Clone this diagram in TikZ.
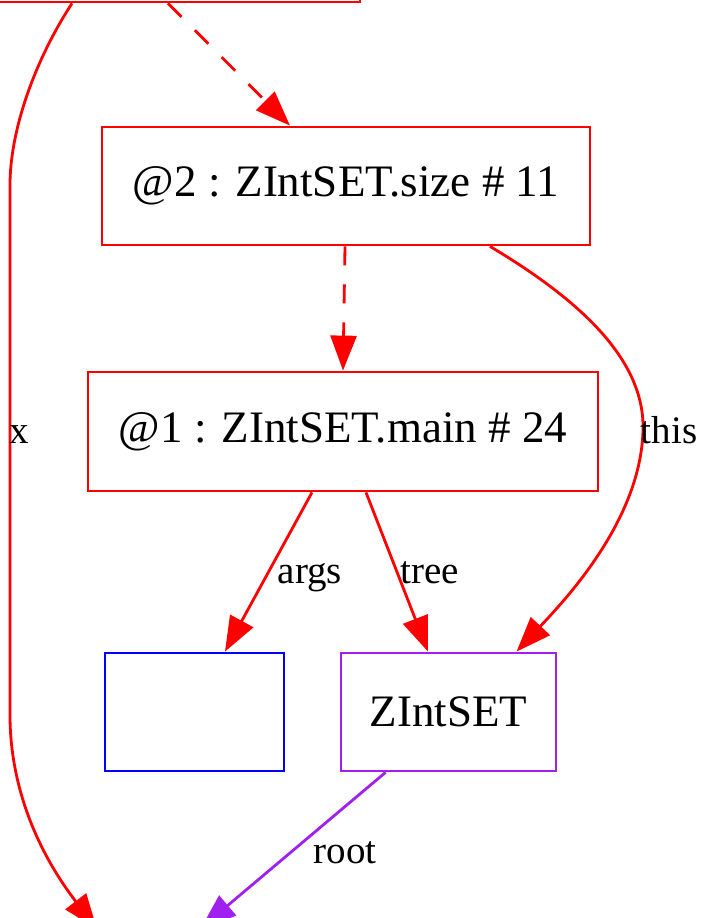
\documentclass[tikz,border=0pt]{standalone}
\usepackage{fontspec}
\setmainfont{Liberation Serif}
\usetikzlibrary{arrows.meta}
\definecolor{gvpurple}{HTML}{A020F0}
\begin{document}
\begin{tikzpicture}[x=1pt,y=-1pt,
  box/.style={draw=red,rectangle,line width=2.8pt,inner sep=0pt,font=\fontsize{45}{54}\selectfont},
  edge/.style={draw=red,line width=2.8pt,-{Triangle[length=35pt,width=26pt]}},
  dsh/.style={dash pattern=on 19pt off 19pt},
  lbl/.style={font=\fontsize{39}{47}\selectfont,inner sep=0pt,anchor=base}]
\useasboundingbox (0,0) rectangle (703,918);
\clip (0,0) rectangle (703,918);
\node[box,minimum width=420pt,minimum height=118pt] (top) at (150,-57) {};
\node[box,minimum width=488pt,minimum height=118pt] (n2) at (346,186) {@2 : ZIntSET.size \# 11};
\node[box,minimum width=510pt,minimum height=119pt] (n1) at (343,431.5) {@1 : ZIntSET.main \# 24};
\node[box,draw=blue,minimum width=179pt,minimum height=118pt] (arr) at (194.5,712) {};
\node[box,draw=gvpurple,minimum width=215pt,minimum height=118pt] (zs) at (448.5,712) {ZIntSET};
\coordinate (b1) at (97,929);
\coordinate (b2) at (201,928);
\draw[edge,dsh] ([xshift=18pt]top.south) -- ([xshift=-56pt]n2.north);
\draw[edge,dsh] ([xshift=-1pt]n2.south) -- (n1.north);
\draw[edge] ([xshift=-78pt]top.south) .. controls (35,60) and (10,130) .. (10,185) -- (10,715) .. controls (10,790) and (40,855) .. (b1);
\draw[edge] ([xshift=144pt]n2.south) .. controls (580,300) and (645,360) .. (643,430) .. controls (641,520) and (565,600) .. ([xshift=68pt]zs.north);
\draw[edge] ([xshift=-31pt]n1.south) -- ([xshift=30.5pt]arr.north);
\draw[edge] ([xshift=23pt]n1.south) -- ([xshift=-20.5pt]zs.north);
\draw[edge,draw=gvpurple,color=gvpurple] ([xshift=-63pt]zs.south) -- (b2);
\node[lbl] (lx) at (19,443) {x};
\node[lbl] (lthis) at (669,443) {this};
\node[lbl] (largs) at (310,583) {args};
\node[lbl] (ltree) at (430,583) {tree};
\node[lbl] (lroot) at (345,863) {root};
\end{tikzpicture}
\end{document}
